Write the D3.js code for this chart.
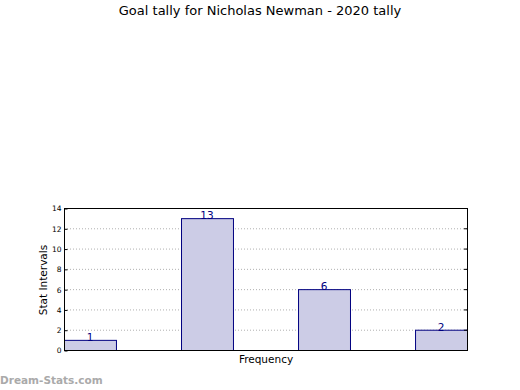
<!DOCTYPE html>
<html>
<head>
<meta charset="utf-8">
<script src="https://cdn.jsdelivr.net/npm/d3@7"></script>
<style>
body { margin: 0; background: #fff; }
text { font-family: "DejaVu Sans", sans-serif; }
</style>
</head>
<body>
<script>
const categories = ["a", "b", "c", "d"];
const values = [1, 13, 6, 2];
const yTicks = [0, 2, 4, 6, 8, 10, 12, 14];

const width = 520, height = 390;
const plotL = 64, plotR = 467, plotT = 208, plotB = 350;

const svg = d3.select("body").append("svg")
  .attr("width", width)
  .attr("height", height);

const x = d3.scaleBand().domain(categories).range([plotL, plotR])
  .paddingInner(0.556).paddingOuter(0);
const y = d3.scaleLinear().domain([0, 14]).range([plotB, plotT]);

// grid
svg.append("g").selectAll("line")
  .data(yTicks.filter(d => d > 0 && d < 14))
  .join("line")
  .attr("x1", plotL).attr("x2", plotR)
  .attr("y1", d => y(d) + 0.5).attr("y2", d => y(d) + 0.5)
  .attr("stroke", "#b0b0b0")
  .attr("stroke-dasharray", "1,2");

// bars
svg.append("g").selectAll("rect")
  .data(values)
  .join("rect")
  .attr("x", (d, i) => x(categories[i]) + 0.5)
  .attr("y", d => y(d) + 0.5)
  .attr("width", x.bandwidth())
  .attr("height", d => plotB - y(d))
  .attr("fill", "#ccccе6".replace("е", "e"))
  .attr("stroke", "#000080")
  .attr("stroke-width", 1);

// value labels
svg.append("g").selectAll("text")
  .data(values)
  .join("text")
  .attr("x", (d, i) => x(categories[i]) + x.bandwidth() / 2)
  .attr("y", d => y(d) + 1)
  .attr("text-anchor", "middle")
  .attr("font-size", 10.5)
  .attr("fill", "#000080")
  .text(d => d);

// frame
svg.append("rect")
  .attr("x", plotL + 0.5).attr("y", plotT + 0.5)
  .attr("width", plotR - plotL).attr("height", plotB - plotT)
  .attr("fill", "none").attr("stroke", "#000");

// y axis
const yAxis = svg.append("g")
  .attr("transform", `translate(${plotL + 0.5},0.5)`)
  .call(d3.axisLeft(y).tickValues(yTicks).tickSize(-3).tickPadding(3));
yAxis.select(".domain").remove();
yAxis.selectAll("text").attr("font-size", 7.5).attr("font-family", "DejaVu Sans").attr("fill", "#000");

// right ticks
svg.append("g").selectAll("line")
  .data(yTicks)
  .join("line")
  .attr("x1", plotR - 3).attr("x2", plotR)
  .attr("y1", d => y(d) + 0.5).attr("y2", d => y(d) + 0.5)
  .attr("stroke", "#000");

// titles
svg.append("text")
  .attr("x", 260).attr("y", 15)
  .attr("text-anchor", "middle")
  .attr("font-size", 13)
  .text("Goal tally for Nicholas Newman - 2020 tally");

svg.append("text")
  .attr("x", 266).attr("y", 363)
  .attr("text-anchor", "middle")
  .attr("font-size", 10.5)
  .text("Frequency");

svg.append("text")
  .attr("transform", "translate(47,280) rotate(-90)")
  .attr("text-anchor", "middle")
  .attr("font-size", 10.5)
  .text("Stat Intervals");

svg.append("text")
  .attr("x", 0).attr("y", 384)
  .attr("font-size", 10.5)
  .attr("font-weight", "bold")
  .attr("fill", "#aaa")
  .text("Dream-Stats.com");
</script>
</body>
</html>
